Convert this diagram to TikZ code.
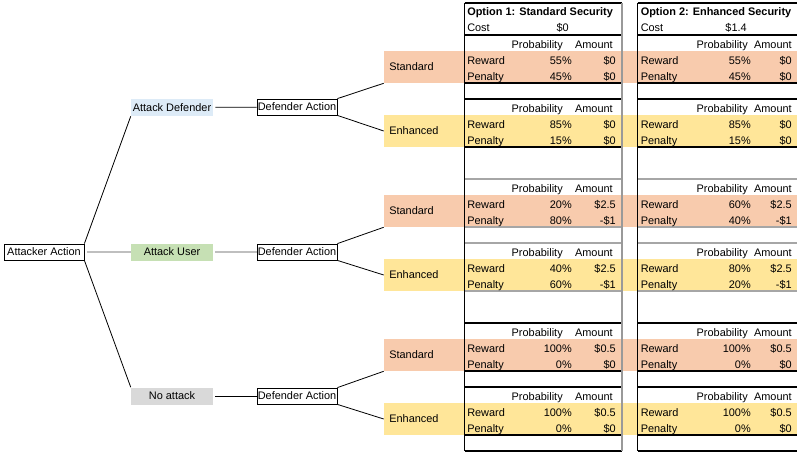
\documentclass[tikz,border=0pt]{standalone}
\usepackage{fontspec}
\setmainfont{Liberation Sans}
\usepackage{xcolor}
\definecolor{stdfill}{HTML}{F8CBAD}
\definecolor{enhfill}{HTML}{FFE699}
\definecolor{deffill}{HTML}{DDEBF7}
\definecolor{userfill}{HTML}{C6E0B4}
\definecolor{nonefill}{HTML}{D9D9D9}
\tikzset{choice/.style = {draw, line width=0.6pt, minimum width=60pt, minimum height=12pt, inner sep=0pt}}
\tikzset{move/.style = {minimum width=61.5pt, minimum height=12.75pt, inner sep=0pt}}
\tikzset{outcome/.style = {minimum height=24pt, inner xsep=4pt, inner ysep=0pt, text width=52pt, align=left}}
\tikzset{lbl/.style = {inner sep=0pt, anchor=base west}}
\tikzset{num/.style = {inner sep=0pt, anchor=base east}}
\tikzset{rule/.style = {line width=0.8pt}}
\tikzset{link/.style = {line width=0.6pt}}
\tikzset{softlink/.style = {line width=1pt, black!25}}

\begin{document}
\begin{tikzpicture}[x=0.75pt, y=-0.75pt, font=\fontsize{8.2}{10}\selectfont]
    \useasboundingbox (0,0) rectangle (800,458);

    % coloured bands and table rules
    \foreach \oy/\lc in {0/black, 144/black!35, 288/black} {
        \fill[stdfill] (384,51+\oy) rectangle (797,83+\oy);
        \fill[enhfill] (384,115+\oy) rectangle (797,147+\oy);
        \foreach \yy in {35,83,99,147} {
            \draw[rule, draw=\lc] (464.5,\yy+\oy) -- (622,\yy+\oy);
            \draw[rule, draw=\lc] (637.5,\yy+\oy) -- (797,\yy+\oy);
        }
    }
    \draw[rule] (464.5,3) -- (622,3);
    \draw[rule] (637.5,3) -- (797,3);
    \draw[rule] (464.5,451) -- (622,451);
    \draw[rule] (637.5,451) -- (797,451);
    \draw[rule] (464.5,3) -- (464.5,451);
    \draw[rule, black!40] (622,3) -- (622,451);
    \draw[rule] (637.5,3) -- (637.5,451);

    % tree
    \node[choice] (A) at (44,252) {Attacker Action};

    \node[move, fill=deffill] (AD) at (172,107.5) {Attack Defender};
    \node[move, fill=userfill] (AU) at (172,252) {Attack User};
    \node[move, fill=nonefill] (NA) at (172,396) {No attack};

    \node[choice] (D1) at (297,107) {Defender Action};
    \node[choice] (D2) at (297,252) {Defender Action};
    \node[choice] (D3) at (297,396) {Defender Action};

    \node[outcome] (S1) at (424,67) {Standard};
    \node[outcome] (E1) at (424,131) {Enhanced};
    \node[outcome] (S2) at (424,211) {Standard};
    \node[outcome] (E2) at (424,275) {Enhanced};
    \node[outcome] (S3) at (424,355) {Standard};
    \node[outcome] (E3) at (424,419) {Enhanced};

    \draw[link] (A.north east) -- (AD.south west);
    \draw[softlink, shorten <=2pt] (A) -- (AU);
    \draw[link] (A.south east) -- (NA.north west);

    \draw[link, shorten <=1.5pt] (AD) -- (D1);
    \draw[softlink, shorten <=1.5pt] (AU) -- (D2);
    \draw[link, shorten <=1.5pt] (NA) -- (D3);

    \draw[link] (D1.north east) -- (S1.south west);
    \draw[link] (D1.south east) -- (E1.west);
    \draw[link] (D2.north east) -- (S2.south west);
    \draw[link] (D2.south east) -- (E2.west);
    \draw[link] (D3.north east) -- (S3.south west);
    \draw[link] (D3.south east) -- (E3.west);

    % table heads
    \node[lbl, font=\fontsize{8.2}{10}\selectfont\bfseries] (opt1) at (467,15.5) {Option 1: Standard Security};
    \node[lbl] (cost1) at (467,31) {Cost};
    \node[num] (costv1) at (569,31) {\$0};
    \node[lbl, font=\fontsize{8.2}{10}\selectfont\bfseries] (opt2) at (640.5,15.5) {Option 2: Enhanced Security};
    \node[lbl] (cost2) at (640.5,31) {Cost};
    \node[num] (costv2) at (747,31) {\$1.4};

    \foreach \t/\lx/\hp/\ha in {1/467/563/613, 2/640.5/748/792}
        \foreach \yb in {51,115,195,259,339,403} {
            \node[num] (hp-\t-\yb) at (\hp,\yb-3) {Probability};
            \node[num] (ha-\t-\yb) at (\ha,\yb-3) {Amount};
            \node[lbl] (rw-\t-\yb) at (\lx,\yb+13) {Reward};
            \node[lbl] (pn-\t-\yb) at (\lx,\yb+29) {Penalty};
        }

    % values
    \foreach \vp/\va/\yb/\rp/\ra/\pp/\pa in {
        572/616/51/55\%/\$0/45\%/\$0,
        572/616/115/85\%/\$0/15\%/\$0,
        572/616/195/20\%/\$2.5/80\%/-\$1,
        572/616/259/40\%/\$2.5/60\%/-\$1,
        572/616/339/100\%/\$0.5/0\%/\$0,
        572/616/403/100\%/\$0.5/0\%/\$0,
        751/792/51/55\%/\$0/45\%/\$0,
        751/792/115/85\%/\$0/15\%/\$0,
        751/792/195/60\%/\$2.5/40\%/-\$1,
        751/792/259/80\%/\$2.5/20\%/-\$1,
        751/792/339/100\%/\$0.5/0\%/\$0,
        751/792/403/100\%/\$0.5/0\%/\$0} {
        \node[num] (rp-\vp-\yb) at (\vp,\yb+13) {\rp};
        \node[num] (ra-\vp-\yb) at (\va,\yb+13) {\ra};
        \node[num] (pp-\vp-\yb) at (\vp,\yb+29) {\pp};
        \node[num] (pa-\vp-\yb) at (\va,\yb+29) {\pa};
    }
\end{tikzpicture}
\end{document}
